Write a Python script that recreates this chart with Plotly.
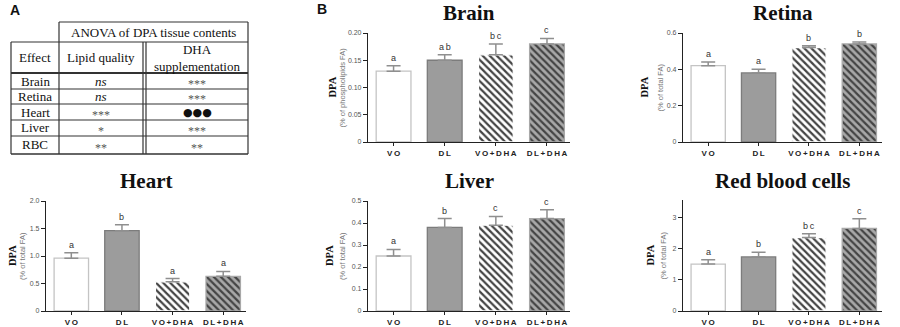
import plotly.graph_objects as go

W, H = 900, 327

# ---------------- data ----------------
CATEGORIES = ["VO", "DL", "VO+DHA", "DL+DHA"]

BRAIN_VALUES = [0.13, 0.15, 0.16, 0.18]
BRAIN_ERRORS = [0.01, 0.01, 0.02, 0.01]
BRAIN_LETTERS = ["a", "ab", "bc", "c"]
BRAIN_TICKS = [0, 0.05, 0.10, 0.15, 0.20]
BRAIN_TICK_LABELS = ["0", "0.05", "0.10", "0.15", "0.20"]

RETINA_VALUES = [0.42, 0.38, 0.52, 0.54]
RETINA_ERRORS = [0.02, 0.02, 0.01, 0.01]
RETINA_LETTERS = ["a", "a", "b", "b"]
RETINA_TICKS = [0, 0.2, 0.4, 0.6]
RETINA_TICK_LABELS = ["0", "0.2", "0.4", "0.6"]

HEART_VALUES = [0.96, 1.46, 0.53, 0.63]
HEART_ERRORS = [0.10, 0.11, 0.06, 0.09]
HEART_LETTERS = ["a", "b", "a", "a"]
HEART_TICKS = [0, 0.5, 1.0, 1.5, 2.0]
HEART_TICK_LABELS = ["0", "0.5", "1.0", "1.5", "2.0"]

LIVER_VALUES = [0.25, 0.38, 0.39, 0.42]
LIVER_ERRORS = [0.03, 0.04, 0.04, 0.04]
LIVER_LETTERS = ["a", "b", "c", "c"]
LIVER_TICKS = [0, 0.1, 0.2, 0.3, 0.4, 0.5]
LIVER_TICK_LABELS = ["0", "0.1", "0.2", "0.3", "0.4", "0.5"]

RBC_VALUES = [1.50, 1.73, 2.35, 2.64]
RBC_ERRORS = [0.14, 0.15, 0.12, 0.31]
RBC_LETTERS = ["a", "b", "bc", "c"]
RBC_TICKS = [0, 1, 2, 3]
RBC_TICK_LABELS = ["0", "1", "2", "3"]

TABLE_TITLE = "ANOVA of DPA tissue contents"
TABLE_HEADERS = ["Effect", "Lipid quality", "DHA<br>supplementation"]
TABLE_ROWS = ["Brain", "Retina", "Heart", "Liver", "RBC"]
LIPID_QUALITY = ["<i>ns</i>", "<i>ns</i>", "***", "*", "**"]
DHA_SUPPLEMENTATION = ["***", "***", "●●●", "***", "**"]

# ---------------- styles ----------------
BAR_FILL = ["#ffffff", "#9c9c9c", "#ffffff", "#a8a8a8"]
BAR_EDGE = ["#c4c4c4", "#7c7c7c", "#ffffff", "#a8a8a8"]
BAR_PATTERN = ["", "", "\\", "\\"]
SERIF = "Liberation Serif, Times New Roman, serif"
SANS = "Liberation Sans, Arial, sans-serif"


def px_x(p):
    return p / W


def px_y(p):
    return 1 - p / H


def spaced(s):
    return "\u2009".join(list(s))


def paper_note(x, y, text, font, **kw):
    d = dict(x=px_x(x), y=px_y(y), xref="paper", yref="paper", text=text,
             showarrow=False, xanchor="center", yanchor="middle", font=font)
    d.update(kw)
    return d


PANELS = [
    dict(title="Brain", values=BRAIN_VALUES, errors=BRAIN_ERRORS, letters=BRAIN_LETTERS,
         ticks=BRAIN_TICKS, ticklabels=BRAIN_TICK_LABELS, ymax=0.20,
         unit="(% of phospholipids FA)", xpx=(368, 570), ypx=(33, 142),
         dpa_x=332, sub_x=342, title_y=13),
    dict(title="Retina", values=RETINA_VALUES, errors=RETINA_ERRORS, letters=RETINA_LETTERS,
         ticks=RETINA_TICKS, ticklabels=RETINA_TICK_LABELS, ymax=0.60,
         unit="(% of total FA)", xpx=(683, 882), ypx=(33, 142),
         dpa_x=644, sub_x=660, title_y=13),
    dict(title="Heart", values=HEART_VALUES, errors=HEART_ERRORS, letters=HEART_LETTERS,
         ticks=HEART_TICKS, ticklabels=HEART_TICK_LABELS, ymax=2.0,
         unit="(% of total FA)", xpx=(46, 246), ypx=(201, 311),
         dpa_x=12, sub_x=22, title_y=181),
    dict(title="Liver", values=LIVER_VALUES, errors=LIVER_ERRORS, letters=LIVER_LETTERS,
         ticks=LIVER_TICKS, ticklabels=LIVER_TICK_LABELS, ymax=0.5,
         unit="(% of total FA)", xpx=(368, 570), ypx=(201, 311),
         dpa_x=329, sub_x=342, title_y=181),
    dict(title="Red blood cells", values=RBC_VALUES, errors=RBC_ERRORS, letters=RBC_LETTERS,
         ticks=RBC_TICKS, ticklabels=RBC_TICK_LABELS, ymax=3.55,
         unit="(% of total FA)", xpx=(683, 882), ypx=(200, 311),
         dpa_x=650, sub_x=663, title_y=181),
]

fig = go.Figure()
annotations = []
shapes = []
layout_axes = {}

for i, p in enumerate(PANELS):
    n = "" if i == 0 else str(i + 1)
    xa, ya = "x" + n, "y" + n
    fig.add_trace(go.Bar(
        x=CATEGORIES, y=p["values"], xaxis=xa, yaxis=ya, width=0.68,
        marker=dict(color=BAR_FILL, line=dict(color=BAR_EDGE, width=1.3),
                    pattern=dict(shape=BAR_PATTERN, fgcolor="#000000",
                                 size=5, solidity=0.45, fillmode="overlay", fgopacity=1)),
        error_y=dict(type="data", symmetric=False, array=p["errors"],
                     arrayminus=[0] * len(p["errors"]), color="#8f8f8f",
                     thickness=1.5, width=7),
        showlegend=False, hoverinfo="skip",
    ))
    layout_axes["xaxis" + n] = dict(
        domain=[px_x(p["xpx"][0]), px_x(p["xpx"][1])], anchor=ya,
        type="category", range=[-0.5, 3.45],
        tickvals=CATEGORIES, ticktext=["<b>" + spaced(c) + "</b>" for c in CATEGORIES],
        ticks="outside", ticklen=3, tickcolor="#222", tickwidth=1,
        showline=True, linecolor="#222", linewidth=1.2, showgrid=False,
        tickfont=dict(family=SANS, size=8, color="#222"), fixedrange=True,
        automargin=False,
    )
    layout_axes["yaxis" + n] = dict(
        domain=[px_y(p["ypx"][1]), px_y(p["ypx"][0])], anchor=xa,
        range=[0, p["ymax"]], tickvals=p["ticks"], ticktext=p["ticklabels"],
        ticks="outside", ticklen=4, tickcolor="#222", tickwidth=1,
        showline=True, linecolor="#222", linewidth=1.2, showgrid=False, zeroline=False,
        tickfont=dict(family=SANS, size=7, color="#555"), fixedrange=True,
        automargin=False,
    )
    # significance letters
    for c, v, e, l in zip(CATEGORIES, p["values"], p["errors"], p["letters"]):
        annotations.append(dict(
            x=c, y=v + e, xref=xa, yref=ya, text=spaced(l), showarrow=False,
            xanchor="center", yanchor="bottom", yshift=1,
            font=dict(family=SANS, size=9, color="#333")))
    # titles
    xc = (p["xpx"][0] + p["xpx"][1]) / 2
    annotations.append(paper_note(xc, p["title_y"], "<b>" + p["title"] + "</b>",
                                  dict(family=SERIF, size=21, color="#111")))
    yc = (p["ypx"][0] + p["ypx"][1]) / 2
    annotations.append(paper_note(p["dpa_x"], yc, "<b>DPA</b>",
                                  dict(family=SERIF, size=10.5, color="#111"), textangle=-90))
    annotations.append(paper_note(p["sub_x"], yc, p["unit"],
                                  dict(family=SANS, size=7.5, color="#777"), textangle=-90))

# panel letters
annotations.append(paper_note(15, 10, "<b>A</b>", dict(family=SANS, size=14, color="#111")))
annotations.append(paper_note(322, 9, "<b>B</b>", dict(family=SANS, size=14, color="#111")))

# ---------------- table ----------------
def hline(x0, x1, y, w=1.2):
    shapes.append(dict(type="line", xref="paper", yref="paper",
                       x0=px_x(x0), x1=px_x(x1), y0=px_y(y), y1=px_y(y),
                       line=dict(color="#333", width=w)))


def vline(x, y0, y1, w=1.2):
    shapes.append(dict(type="line", xref="paper", yref="paper",
                       x0=px_x(x), x1=px_x(x), y0=px_y(y0), y1=px_y(y1),
                       line=dict(color="#333", width=w)))


C0, C1, C2a, C2b, C3 = 11, 59, 143, 146, 248
R_TOP, R_HEAD, R_DATA = 22, 42, 73
ROW_EDGES = [73, 89, 104, 120, 136, 154]

hline(C1, C3, R_TOP)
hline(C0, C3, R_HEAD)
hline(C0, C3, R_DATA, 2)
for y in ROW_EDGES[1:]:
    hline(C0, C3, y, 1.2 if y != ROW_EDGES[-1] else 1.6)
vline(C0, R_HEAD, ROW_EDGES[-1])
vline(C1, R_TOP, ROW_EDGES[-1])
vline(C2a, R_HEAD, ROW_EDGES[-1])
vline(C2b, R_HEAD, ROW_EDGES[-1])
vline(C3, R_TOP, ROW_EDGES[-1])

tfont = dict(family=SERIF, size=13, color="#111")
annotations.append(paper_note((C1 + C3) / 2, (R_TOP + R_HEAD) / 2, TABLE_TITLE, tfont))
col_centers = [(C0 + C1) / 2, (C1 + C2a) / 2, (C2b + C3) / 2]
for xc, h in zip(col_centers, TABLE_HEADERS):
    annotations.append(paper_note(xc, (R_HEAD + R_DATA) / 2, h, tfont))
for k, (name, lq, dha) in enumerate(zip(TABLE_ROWS, LIPID_QUALITY, DHA_SUPPLEMENTATION)):
    yc = (ROW_EDGES[k] + ROW_EDGES[k + 1]) / 2
    for xc, t in zip(col_centers, [name, lq, dha]):
        f = dict(tfont)
        shift = 0
        if "*" in t:
            f = dict(family=SERIF, size=12, color="#555")
            shift = -3
        if "●" in t:
            f = dict(family="DejaVu Sans, sans-serif", size=11, color="#111")
        annotations.append(paper_note(xc, yc, t, f, yshift=shift))

fig.update_layout(
    width=W, height=H, margin=dict(l=0, r=0, t=0, b=0, autoexpand=False),
    paper_bgcolor="white", plot_bgcolor="white",
    annotations=annotations, shapes=shapes, bargap=0.3,
    **layout_axes,
)

fig.write_html("out.html", config={"displayModeBar": False},
               post_script="document.body.style.margin='0px';")
